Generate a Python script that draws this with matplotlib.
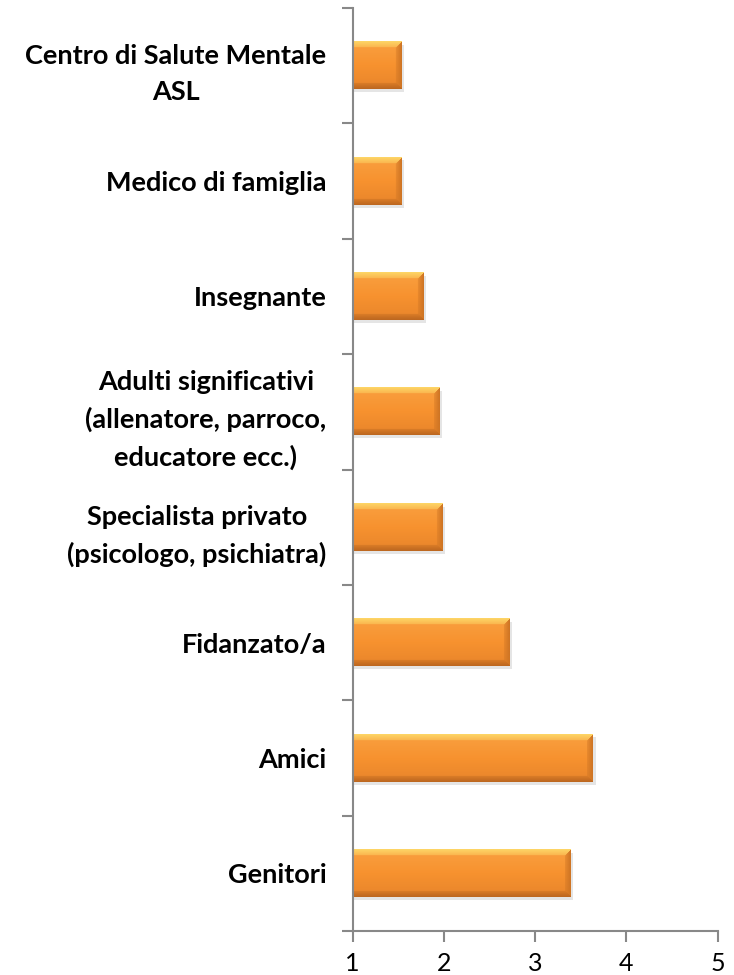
import numpy as np
import matplotlib
matplotlib.use('Agg')
import matplotlib.pyplot as plt
from matplotlib.colors import to_rgb

# categorie dal basso verso l'alto
categorie = ['Genitori', 'Amici', 'Fidanzato/a',
             'Specialista privato\n(psicologo, psichiatra)',
             'Adulti significativi\n(allenatore, parroco,\neducatore ecc.)',
             'Insegnante', 'Medico di famiglia',
             'Centro di Salute Mentale\nASL']
valori = [3.38, 3.63, 2.71, 1.98, 1.95, 1.77, 1.53, 1.53]
xticks = [1, 2, 3, 4, 5]

W, H, DPI = 734, 975, 100
fig = plt.figure(figsize=(W / DPI, H / DPI), dpi=DPI)
ax = fig.add_axes([0.4805, 0.0451, 0.9778 - 0.4805, 0.9918 - 0.0451])

x0 = 1
h = 0.41
px_per_x = (0.9778 - 0.4805) * W / 4
px_per_y = (0.9918 - 0.0451) * H / 8


def bar_image(wpx, hpx):
    # barra arancione con effetto smussato
    top = np.array(to_rgb('#F9A040'))
    mid = np.array(to_rgb('#F7922F'))
    bot = np.array(to_rgb('#E8852B'))
    t = np.linspace(0, 1, hpx)[:, None]
    col = np.where(t < 0.5, top + (mid - top) * (t / 0.5), mid + (bot - mid) * ((t - 0.5) / 0.5))
    img = np.repeat(col[:, None, :], wpx, axis=1).reshape(hpx, wpx, 3)
    b = 6
    yy, xx = np.mgrid[0:hpx, 0:wpx]
    d_top = yy
    d_bot = hpx - 1 - yy
    d_right = wpx - 1 - xx
    hl = np.array(to_rgb('#FDD465'))
    dk = np.array(to_rgb('#BE6820'))
    rt = np.array(to_rgb('#CF7524'))
    m_top = (d_top < b) & (d_top <= d_right)
    m_bot = (d_bot < b) & (d_bot <= d_right)
    m_rt = (d_right < b) & ~m_top & ~m_bot
    # sfumatura graduale nelle bande
    w_top = (1 - d_top / b)[m_top][:, None]
    w_bot = (1 - d_bot / b)[m_bot][:, None]
    w_rt = (1 - d_right / b)[m_rt][:, None]
    img[m_top] = hl * (0.4 + 0.6 * w_top) + img[m_top] * (0.6 - 0.6 * w_top)
    img[m_bot] = dk * (0.3 + 0.7 * w_bot) + img[m_bot] * (0.7 - 0.7 * w_bot)
    img[m_rt] = rt * (0.3 + 0.7 * w_rt) + img[m_rt] * (0.7 - 0.7 * w_rt)
    return img


for i, v in enumerate(valori):
    # ombra
    dx = 3 / px_per_x
    dy = 3 / px_per_y
    ax.barh(i - dy, v - x0 + dx, left=x0, height=h, color='#D5D5D5', alpha=0.6,
            zorder=1, linewidth=0)
    wpx = max(int(round((v - x0) * px_per_x)), 2)
    hpx = int(round(h * px_per_y))
    ax.imshow(bar_image(wpx, hpx), extent=[x0, v, i - h / 2, i + h / 2],
              aspect='auto', zorder=2, interpolation='bilinear')

ax.set_xlim(1, 5)
ax.set_ylim(-0.5, 7.5)
ax.set_xticks(xticks)
ax.set_xticklabels([str(t) for t in xticks], fontsize=18, family='Lato')
ax.set_yticks(range(len(categorie)))
ax.set_yticklabels(categorie, fontsize=19.5, family='Lato', fontweight='bold',
                   multialignment='center', linespacing=1.6)
ax.set_yticks(np.arange(-0.5, 8, 1), minor=True)
ax.tick_params(axis='y', which='major', length=0, pad=19)
ax.tick_params(axis='y', which='minor', length=8, width=1.5, color='#888888')
ax.tick_params(axis='x', length=8, width=1.5, color='#888888', pad=7)

for s in ['top', 'right']:
    ax.spines[s].set_visible(False)
for s in ['left', 'bottom']:
    ax.spines[s].set_color('#888888')
    ax.spines[s].set_linewidth(1.5)

fig.savefig('out.png', dpi=DPI)
